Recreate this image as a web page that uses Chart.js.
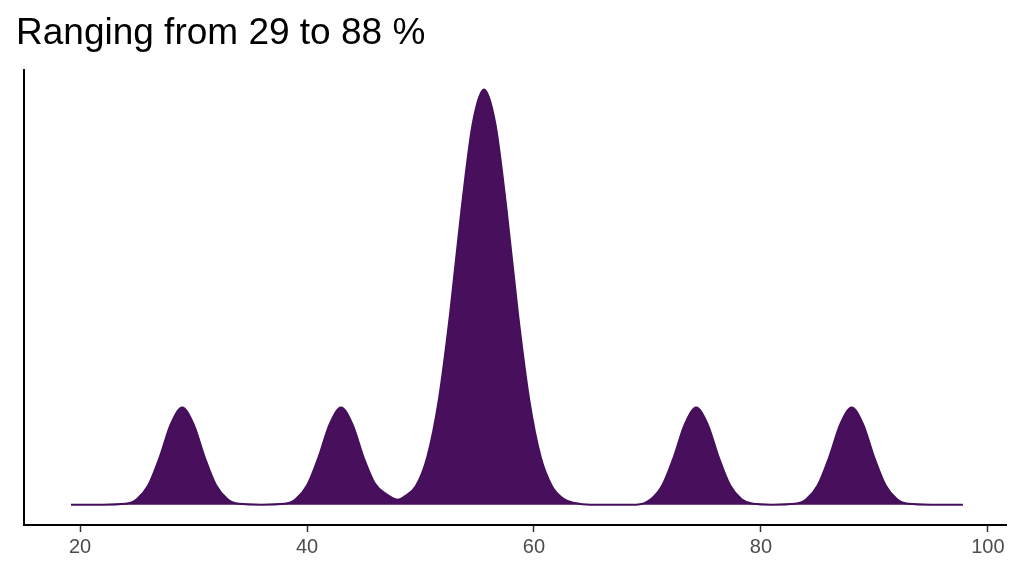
<!DOCTYPE html>
<html>
<head>
<meta charset="utf-8">
<script src="https://cdn.jsdelivr.net/npm/chart.js@4"></script>
<style>
  html, body { margin: 0; background: #fff; }
  #wrap { width: 1024px; height: 576px; }
</style>
</head>
<body>
<div id="wrap"><canvas id="chart"></canvas></div>
<script>
// density curve (x in %, y relative to highest peak)
var xValues = [19.2, 22, 24, 25, 26, 27, 28, 29, 30, 31, 32, 33, 34, 36,
    38, 39, 40, 41, 42, 43, 44, 45, 46, 47, 48, 48.6, 49.6, 50.6, 51.6, 52.6, 53.6,
    54.6, 55.6, 56.6, 57.6, 58.6, 59.6, 60.6, 61.6, 62.6, 63.6, 65, 69,
    70.3, 71.3, 72.3, 73.3, 74.3, 75.3, 76.3, 77.3, 78.3, 79.3, 81,
    83, 84, 85, 86, 87, 88, 89, 90, 91, 92, 93, 95, 97.8];
var yValues = [0, 0, 0.002, 0.013, 0.046, 0.113, 0.194, 0.234, 0.194, 0.113, 0.046, 0.013, 0.002, 0,
    0.002, 0.013, 0.046, 0.113, 0.194, 0.234, 0.194, 0.113, 0.05, 0.025, 0.012, 0.02, 0.045, 0.115, 0.25, 0.458, 0.707,
    0.917, 1, 0.917, 0.707, 0.458, 0.25, 0.114, 0.044, 0.014, 0.004, 0, 0,
    0.013, 0.046, 0.113, 0.194, 0.234, 0.194, 0.113, 0.046, 0.013, 0.002, 0,
    0.002, 0.013, 0.046, 0.113, 0.194, 0.234, 0.194, 0.113, 0.046, 0.013, 0.002, 0, 0];
var xTicks = [20, 40, 60, 80, 100];

var points = xValues.map(function(x, i) { return { x: x, y: yValues[i] }; });

new Chart(document.getElementById('chart'), {
    type: 'line',
    data: {
        datasets: [{
            data: points,
            borderColor: '#440f5c',
            backgroundColor: '#480f5c',
            borderWidth: 2,
            fill: 'origin',
            pointRadius: 0,
            cubicInterpolationMode: 'monotone'
        }]
    },
    options: {
        responsive: true,
        maintainAspectRatio: false,
        animation: false,
        layout: { padding: { left: 16, right: 18, top: 0, bottom: 14 } },
        plugins: {
            legend: { display: false },
            tooltip: { enabled: false },
            title: {
                display: true,
                text: 'Ranging from 29 to 88 %',
                align: 'start',
                color: '#000',
                font: { family: 'Liberation Sans, Arial', size: 37, weight: 'normal' },
                padding: { top: 12, bottom: 14 }
            }
        },
        scales: {
            x: {
                type: 'linear',
                min: 15.06,
                max: 101.6,
                afterBuildTicks: function(axis) {
                    axis.ticks = xTicks.map(function(v) { return { value: v }; });
                },
                grid: { display: true, drawOnChartArea: false, drawTicks: true, tickLength: 7, tickColor: '#333', tickWidth: 1.5, color: '#333' },
                border: { display: true, color: '#000', width: 2 },
                ticks: { color: '#4d4d4d', font: { family: 'Liberation Sans, Arial', size: 20 }, padding: 3, maxRotation: 0 }
            },
            y: {
                min: -0.049,
                max: 1.046,
                grid: { display: false },
                border: { display: true, color: '#000', width: 2 },
                ticks: { display: false }
            }
        }
    }
});
</script>
</body>
</html>
